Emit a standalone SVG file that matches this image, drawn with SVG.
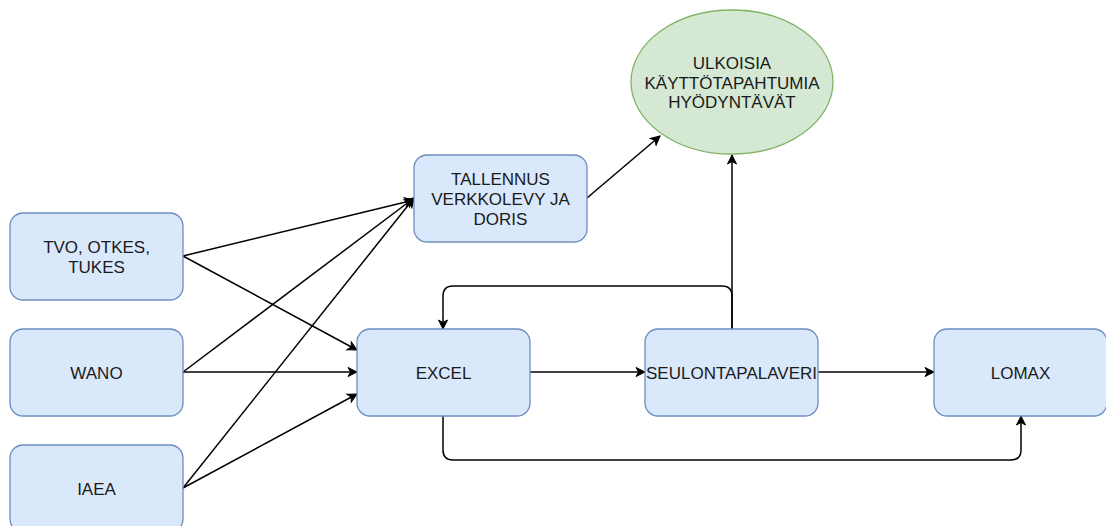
<svg xmlns="http://www.w3.org/2000/svg" width="1106" height="526" viewBox="0 0 1106 526">
<defs>
<marker id="ah" markerWidth="12" markerHeight="12" refX="10" refY="6" orient="auto" markerUnits="userSpaceOnUse">
<path d="M1,1.5 L10,6 L1,10.5 L3.5,6 Z" fill="#000" stroke="#000" stroke-width="1"/>
</marker>
<style>
.box{fill:#dae8fc;stroke:#6c8ebf;stroke-width:1.3}
.ell{fill:#d5e8d4;stroke:#82b366;stroke-width:1.3}
.t{font-family:"Liberation Sans",Arial,sans-serif;font-size:17px;fill:#1a1a1a;text-anchor:middle}
.c{fill:none;stroke:#000;stroke-width:1.5;marker-end:url(#ah)}
</style>
</defs>
<rect width="1106" height="526" fill="#fff"/>
<g id="connectors">
<path class="c" d="M183,256 L414,200"/>
<path class="c" d="M183,256 L357,350"/>
<path class="c" d="M183,372 L414,198"/>
<path class="c" d="M183,372 L357,372"/>
<path class="c" d="M183,488 L414,198"/>
<path class="c" d="M183,488 L357,394"/>
<path class="c" d="M587,198 L660,136"/>
<path class="c" d="M530,372 L645,372"/>
<path class="c" d="M818,372 L934,372"/>
<path class="c" d="M732,329 L732,155"/>
<path class="c" d="M732,329 L732,296 Q732,286 722,286 L453,286 Q443,286 443,296 L443,329"/>
<path class="c" d="M443,416 L443,450 Q443,460 453,460 L1011,460 Q1021,460 1021,450 L1021,416"/>
</g>
<g id="n-ulkoisia">
<ellipse class="ell" cx="732" cy="82" rx="101" ry="72"/>
<text class="t" x="732" y="69">ULKOISIA</text>
<text class="t" x="732" y="89">KÄYTTÖTAPAHTUMIA</text>
<text class="t" x="732" y="108">HYÖDYNTÄVÄT</text>
</g>
<g id="n-tallennus">
<rect class="box" x="414" y="155" width="173" height="87" rx="13"/>
<text class="t" x="500.5" y="185">TALLENNUS</text>
<text class="t" x="500.5" y="205">VERKKOLEVY JA</text>
<text class="t" x="500.5" y="225">DORIS</text>
</g>
<g id="n-tvo">
<rect class="box" x="10" y="213" width="173" height="87" rx="13"/>
<text class="t" x="96.5" y="253">TVO, OTKES,</text>
<text class="t" x="96.5" y="273">TUKES</text>
</g>
<g id="n-wano">
<rect class="box" x="10" y="329" width="173" height="87" rx="13"/>
<text class="t" x="96.5" y="379">WANO</text>
</g>
<g id="n-iaea">
<rect class="box" x="10" y="445" width="173" height="87" rx="13"/>
<text class="t" x="96.5" y="495">IAEA</text>
</g>
<g id="n-excel">
<rect class="box" x="357" y="329" width="173" height="87" rx="13"/>
<text class="t" x="443.5" y="379">EXCEL</text>
</g>
<g id="n-seulonta">
<rect class="box" x="645" y="329" width="173" height="87" rx="13"/>
<text class="t" x="731.5" y="379">SEULONTAPALAVERI</text>
</g>
<g id="n-lomax">
<rect class="box" x="934" y="329" width="173" height="87" rx="13"/>
<text class="t" x="1020.5" y="379">LOMAX</text>
</g>
</svg>
